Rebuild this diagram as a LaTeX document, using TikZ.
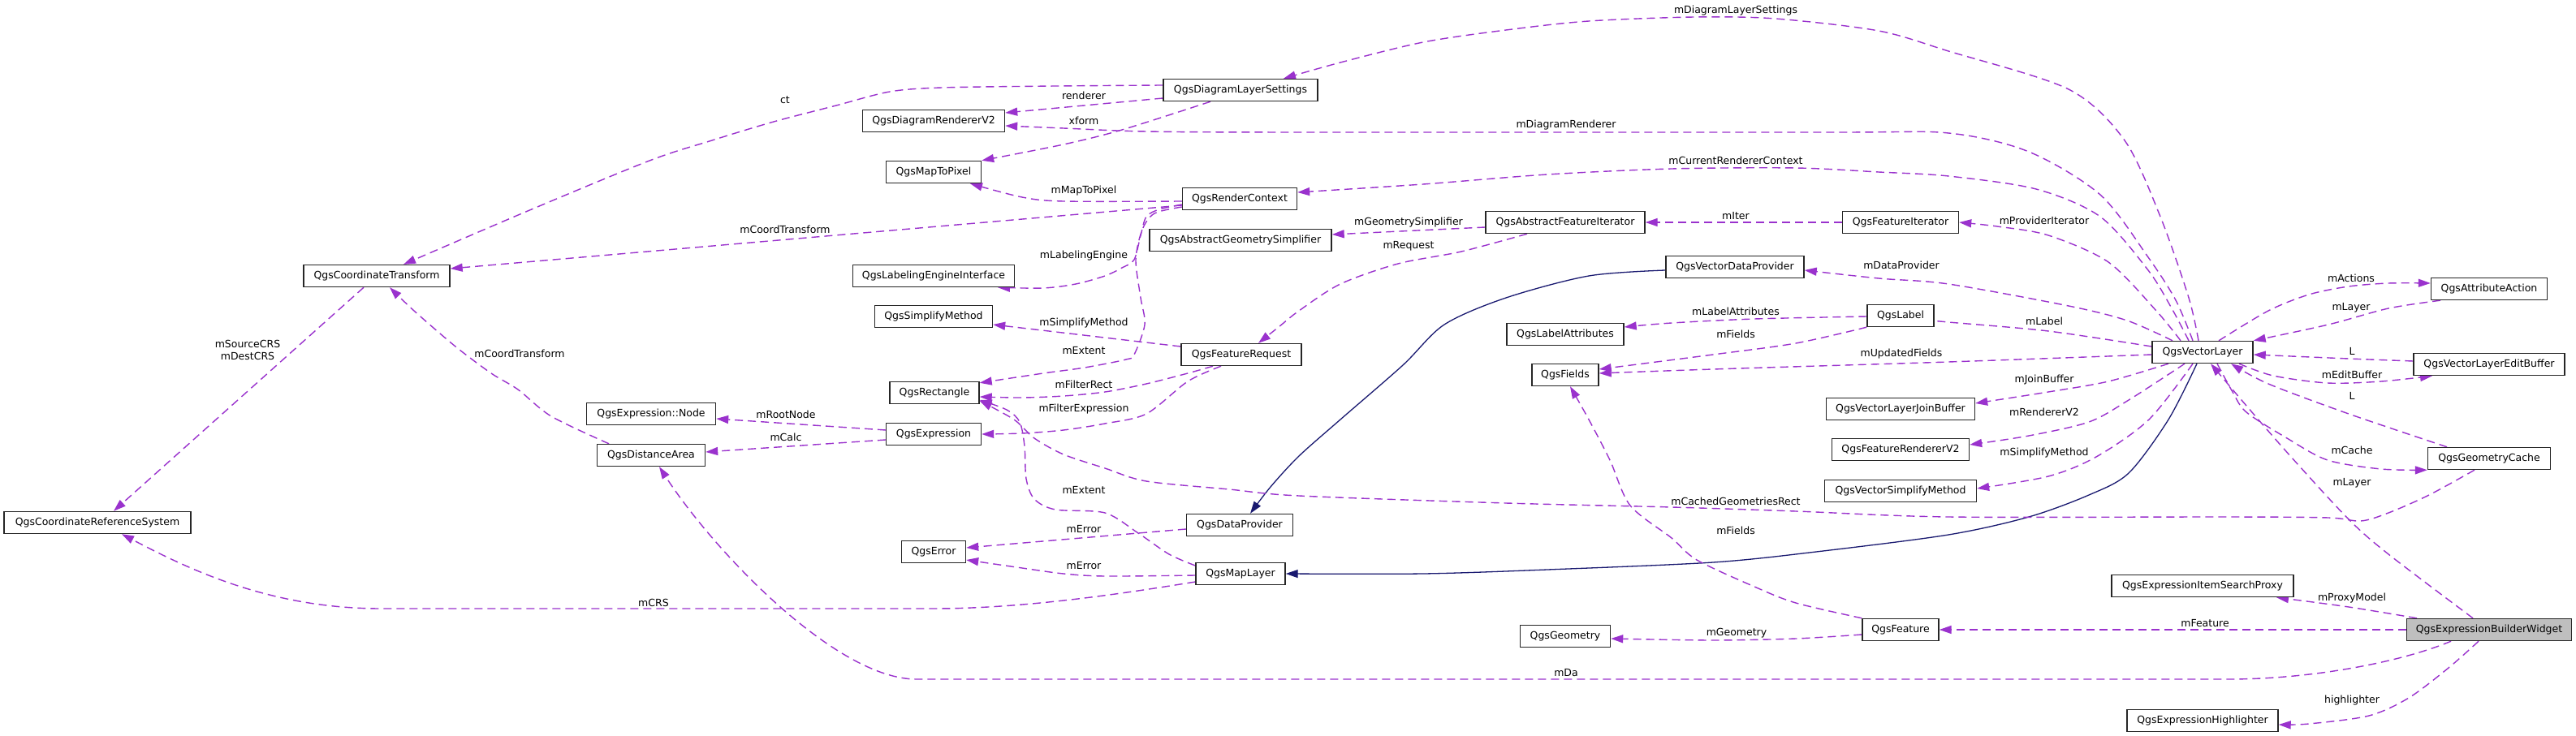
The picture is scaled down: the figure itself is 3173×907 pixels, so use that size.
\documentclass[tikz,border=0pt]{standalone}
\usepackage{fontspec}
\newfontfamily\dvs{DejaVu Sans}
\usetikzlibrary{arrows.meta}
\definecolor{dorchid}{RGB}{154,50,205}
\definecolor{mnblue}{RGB}{25,25,112}
\definecolor{greyfill}{RGB}{191,191,191}
\pgfdeclarelayer{back}
\pgfdeclarelayer{bg}
\pgfsetlayers{back,bg,main}
\begin{document}
\begin{tikzpicture}[x=1pt,y=-1pt,
  box/.style={draw=black!85, line width=1.4pt, fill=white, minimum height=27pt, inner sep=0pt, font={\dvs\fontsize{12.5}{15}\selectfont}},
  lbl/.style={inner sep=0pt, font={\dvs\fontsize{12.5}{15}\selectfont}, align=center},
  dep/.style={draw=dorchid, line width=1.4pt, dash pattern=on 10pt off 6pt, -{Triangle[length=15pt,width=10pt]}},
  inh/.style={draw=mnblue, line width=1.3pt, -{Triangle[length=15pt,width=10pt]}}]
\begin{pgfonlayer}{back}
\fill[white] (0,0) rectangle (3173,907);
\end{pgfonlayer}
\useasboundingbox (0,0) rectangle (3173,907);
% nodes
\node[box, minimum width=180pt] (CT) at (464,340) {QgsCoordinateTransform};
\node[box, minimum width=230pt] (CRS) at (120,644) {QgsCoordinateReferenceSystem};
\node[box, minimum width=190pt] (DLS) at (1528,111) {QgsDiagramLayerSettings};
\node[box, minimum width=175pt] (DRV) at (1150,149) {QgsDiagramRendererV2};
\node[box, minimum width=117pt] (MTP) at (1150,212) {QgsMapToPixel};
\node[box, minimum width=141pt] (RC) at (1527,245) {QgsRenderContext};
\node[box, minimum width=224pt] (AGS) at (1528,296) {QgsAbstractGeometrySimplifier};
\node[box, minimum width=199pt] (LEI) at (1150,340) {QgsLabelingEngineInterface};
\node[box, minimum width=145pt] (SM) at (1150,390) {QgsSimplifyMethod};
\node[box, minimum width=148pt] (FR) at (1529,437) {QgsFeatureRequest};
\node[box, minimum width=110pt] (RECT) at (1151,484) {QgsRectangle};
\node[box, minimum width=159pt] (NODE) at (802,510) {QgsExpression::Node};
\node[box, minimum width=117pt] (EXPR) at (1150,535) {QgsExpression};
\node[box, minimum width=133pt] (DA) at (802,561) {QgsDistanceArea};
\node[box, minimum width=131pt] (DP) at (1527,647) {QgsDataProvider};
\node[box, minimum width=79pt] (ERR) at (1150,680) {QgsError};
\node[box, minimum width=110pt] (ML) at (1528,707) {QgsMapLayer};
\node[box, minimum width=196pt] (AFI) at (1928,274) {QgsAbstractFeatureIterator};
\node[box, minimum width=143pt] (FI) at (2341,274) {QgsFeatureIterator};
\node[box, minimum width=170pt] (VDP) at (2137,329) {QgsVectorDataProvider};
\node[box, minimum width=82pt] (LBL) at (2341,389) {QgsLabel};
\node[box, minimum width=144pt] (LA) at (1928,412) {QgsLabelAttributes};
\node[box, minimum width=82pt] (FLD) at (1928,462) {QgsFields};
\node[box, minimum width=124pt] (VL) at (2713,434) {QgsVectorLayer};
\node[box, minimum width=143pt] (AA) at (3066,356) {QgsAttributeAction};
\node[box, minimum width=186pt] (VLEB) at (3066,449) {QgsVectorLayerEditBuffer};
\node[box, minimum width=183pt] (JB) at (2341,504) {QgsVectorLayerJoinBuffer};
\node[box, minimum width=169pt] (FRV) at (2341,554) {QgsFeatureRendererV2};
\node[box, minimum width=187pt] (VSM) at (2341,605) {QgsVectorSimplifyMethod};
\node[box, minimum width=151pt] (GC) at (3066,565) {QgsGeometryCache};
\node[box, minimum width=224pt] (ESP) at (2713,722) {QgsExpressionItemSearchProxy};
\node[box, minimum width=94pt] (FEAT) at (2341,776) {QgsFeature};
\node[box, minimum width=111pt] (GEOM) at (1928,784) {QgsGeometry};
\node[box, minimum width=203pt, fill=greyfill] (EBW) at (3066,776) {QgsExpressionBuilderWidget};
\node[box, minimum width=186pt] (EH) at (2713,888) {QgsExpressionHighlighter};
% labels
\node[lbl] (l01) at (967,123) {ct};
\node[lbl] (l02) at (1335,118) {renderer};
\node[lbl] (l03) at (1335,149) {xform};
\node[lbl] (l04) at (2138,13) {mDiagramLayerSettings};
\node[lbl] (l05) at (1929,154) {mDiagramRenderer};
\node[lbl] (l06) at (1335,235) {mMapToPixel};
\node[lbl] (l07) at (967,283) {mCoordTransform};
\node[lbl] (l08) at (2138,198) {mCurrentRendererContext};
\node[lbl] (l09) at (1335,315) {mLabelingEngine};
\node[lbl] (l10) at (1335,432) {mExtent};
\node[lbl] (l11) at (1735,274) {mGeometrySimplifier};
\node[lbl] (l12) at (1735,303) {mRequest};
\node[lbl] (l13) at (2138,266) {mIter};
\node[lbl] (l14) at (2518,272) {mProviderIterator};
\node[lbl] (l15) at (1335,398) {mSimplifyMethod};
\node[lbl] (l16) at (1335,474) {mFilterRect};
\node[lbl] (l17) at (1335,504) {mFilterExpression};
\node[lbl] (l18) at (968,511) {mRootNode};
\node[lbl] (l19) at (968,539) {mCalc};
\node[lbl] (l20) at (640,436) {mCoordTransform};
\node[lbl] (l21) at (305,431) {mSourceCRS\\mDestCRS};
\node[lbl] (l22) at (805,743) {mCRS};
\node[lbl] (l23) at (1335,604) {mExtent};
\node[lbl] (l24) at (1335,697) {mError};
\node[lbl] (l25) at (1335,652) {mError};
\node[lbl] (l26) at (2342,327) {mDataProvider};
\node[lbl] (l27) at (2138,384) {mLabelAttributes};
\node[lbl] (l28) at (2138,412) {mFields};
\node[lbl] (l29) at (2518,396) {mLabel};
\node[lbl] (l30) at (2342,436) {mUpdatedFields};
\node[lbl] (l31) at (2518,468) {mJoinBuffer};
\node[lbl] (l32) at (2518,508) {mRendererV2};
\node[lbl] (l33) at (2518,558) {mSimplifyMethod};
\node[lbl] (l34) at (2896,343) {mActions};
\node[lbl] (l35) at (2896,379) {mLayer};
\node[lbl] (l36) at (2897,433) {L};
\node[lbl] (l37) at (2897,462) {mEditBuffer};
\node[lbl] (l38) at (2897,488) {L};
\node[lbl] (l39) at (2897,555) {mCache};
\node[lbl] (l40) at (2897,595) {mLayer};
\node[lbl] (l41) at (2138,618) {mCachedGeometriesRect};
\node[lbl] (l42) at (2138,654) {mFields};
\node[lbl] (l43) at (2139,780) {mGeometry};
\node[lbl] (l44) at (2897,737) {mProxyModel};
\node[lbl] (l45) at (2716,768) {mFeature};
\node[lbl] (l46) at (1929,829) {mDa};
\node[lbl] (l47) at (2897,863) {highlighter};
% edges
\begin{pgfonlayer}{bg}
\draw[dep] plot[smooth] coordinates {([yshift=6pt]DLS.west) (1300,106) (1160,108) (1096,113) (1030,130) (953,150) (877,173) (800,198) (650,260) ([xshift=33pt]CT.north)};
\draw[dep] ([yshift=-10pt]DLS.west) -- ([yshift=10pt]DRV.east);
\draw[dep] plot[smooth] coordinates {([xshift=-37pt]DLS.south) (1382,160) (1310,178) (MTP.north east)};
\draw[dep] plot[smooth] coordinates {([xshift=-5pt]VL.north) (2696,367) (2661,267) (2617,173) (2548,110) (2400,63) (2314,38) (2187,23) (2087,21) (1957,26) (1855,37) (1753,52) (1651,77) ([xshift=53pt]DLS.north)};
\draw[dep] plot[smooth] coordinates {([xshift=-12pt]VL.north) (2680,370) (2646,317) (2587,240) (2499,187) (2400,164) (2250,163) (1600,163) (1412,162) (1310,158) ([yshift=-6pt]DRV.east)};
\draw[dep] plot[smooth] coordinates {([yshift=-3pt]RC.west) (1310,248) (1259,243) ([xshift=45pt]MTP.south)};
\draw[dep] ([yshift=-8pt]RC.west) -- ([yshift=9pt]CT.east);
\draw[dep] plot[smooth] coordinates {([xshift=-17pt]VL.north) (2675,380) (2646,333) (2587,267) (2508,233) (2400,217) (2314,212) (2212,207) (2059,208) (1906,215) (1753,227) ([yshift=8pt]RC.east)};
\draw[dep] plot[smooth] coordinates {([yshift=-7pt]RC.west) (1428,258) (1412,267) (1405,290) (1397,320) (1382,330) (1361,340) (1325,350) (1285,355) ([xshift=79pt]LEI.south)};
\draw[dep] plot[smooth] coordinates {([yshift=-10pt]RC.west) (1422,263) (1407,283) (1399,320) (1405,367) (1410,400) (1397,437) (1387,443) (1336,453) (1285,460) ([yshift=-2pt]RECT.north east)};
\draw[dep] ([yshift=-6pt]AFI.west) -- ([yshift=7pt]AGS.east);
\draw[dep] plot[smooth] coordinates {([xshift=-47pt]AFI.south) (1800,310) (1722,325) (1651,350) (1600,383) (1575,403) ([xshift=21pt]FR.north)};
\draw[dep] (FI.west) -- (AFI.east);
\draw[dep] plot[smooth] coordinates {([xshift=-27pt]VL.north) (2656,383) (2597,323) (2523,290) (2460,279) (FI.east)};
\draw[dep] ([yshift=10pt]FR.west) -- ([yshift=-10pt]SM.east);
\draw[dep] plot[smooth] coordinates {([xshift=-35pt]FR.south) (1463,460) (1412,473) (1361,483) (1310,488) (1259,490) ([yshift=-5pt]RECT.east)};
\draw[dep] plot[smooth] coordinates {([xshift=-25pt]FR.south) (1463,470) (1412,510) (1361,522) (1310,530) (1259,534) (EXPR.east)};
\draw[dep] ([yshift=5pt]EXPR.west) -- ([yshift=-6pt]NODE.east);
\draw[dep] ([yshift=-7pt]EXPR.west) -- ([yshift=4pt]DA.east);
\draw[dep] plot[smooth] coordinates {([xshift=-52pt]DA.north) (679,513) (638,480) (605,460) (561,427) (510,383) ([xshift=16pt]CT.south)};
\draw[dep] ([xshift=-16pt]CT.south) -- ([xshift=20pt]CRS.north);
\draw[dep] ([yshift=-10pt]ML.west) .. controls (1380,732) and (1260,750) .. (1150,750) -- (470,750) .. controls (330,750) and (230,700) .. ([xshift=30pt]CRS.south);
\draw[dep] plot[smooth] coordinates {([yshift=10pt]ML.west) (1440,683) (1402,657) (1361,632) (1300,628) (1274,615) (1264,590) (1262,550) (1256,520) (1240,505) ([yshift=-9pt]RECT.east)};
\draw[dep] plot[smooth] coordinates {([yshift=-2pt]ML.west) (1361,710) (1310,707) (1259,700) ([yshift=-10pt]ERR.east)};
\draw[dep] ([yshift=-5pt]DP.west) -- ([yshift=5pt]ERR.east);
\draw[inh] plot[smooth] coordinates {([yshift=-4pt]VDP.west) (1957,340) (1855,367) (1779,400) (1728,450) (1651,517) (1600,562) (1565,600) ([xshift=13pt]DP.north)};
\draw[inh] plot[smooth] coordinates {([xshift=-7pt]VL.south) (2671,517) (2622,583) (2573,610) (2499,637) (2400,659) (2237,680) (2110,693) (1906,702) (1753,707) (ML.east)};
\draw[dep] plot[smooth] coordinates {([xshift=-37pt]VL.north) (2620,395) (2548,377) (2400,350) (2314,343) ([yshift=-4pt]VDP.east)};
\draw[dep] plot[smooth] coordinates {([yshift=-1pt]LBL.west) (2161,393) (2059,398) ([yshift=9pt]LA.east)};
\draw[dep] plot[smooth] coordinates {(LBL.south west) (2212,423) (2110,437) ([yshift=7pt]FLD.east)};
\draw[dep] plot[smooth] coordinates {([yshift=7pt]VL.west) (2523,408) (2400,397) ([yshift=-6pt]LBL.east)};
\draw[dep] plot[smooth] coordinates {([yshift=-3pt]VL.west) (2400,446) (2110,455) ([yshift=2pt]FLD.east)};
\draw[dep] plot[smooth] coordinates {([xshift=-42pt]VL.south) (2597,470) (2523,483) ([yshift=7pt]JB.east)};
\draw[dep] plot[smooth] coordinates {([xshift=-22pt]VL.south) (2622,493) (2573,520) (2499,537) ([yshift=6pt]FRV.east)};
\draw[dep] plot[smooth] coordinates {([xshift=-12pt]VL.south) (2647,517) (2582,563) (2523,587) ([yshift=3pt]VSM.east)};
\draw[dep] plot[smooth] coordinates {([xshift=20pt]VL.north) (2794,383) (2844,363) (2893,353) (2942,349) ([yshift=7pt]AA.west)};
\draw[dep] plot[smooth] coordinates {([xshift=-60pt]AA.south) (2942,380) (2868,400) (VL.north east)};
\draw[dep] plot[smooth] coordinates {([yshift=4pt]VLEB.west) (2893,442) ([yshift=-3pt]VL.east)};
\draw[dep] plot[smooth] coordinates {([xshift=45pt]VL.south) (2800,463) (2867,472) (2933,470) ([xshift=-70pt]VLEB.south)};
\draw[dep] plot[smooth] coordinates {([xshift=-52pt]GC.north) (2893,510) (2794,473) ([xshift=35pt]VL.south)};
\draw[dep] plot[smooth] coordinates {([xshift=18pt]VL.south) (2750,483) (2767,508) (2817,540) (2867,567) (2933,578) (GC.south west)};
\draw[dep] plot[smooth] coordinates {([xshift=-18pt]GC.south) (2992,610) (2942,632) (2908,642) (2868,638) (2745,637) (2400,637) (2212,630) (2059,625) (1855,620) (1600,611) (1514,603) (1412,593) (1361,577) (1310,560) (1274,540) (1249,517) ([yshift=-10pt]RECT.east)};
\draw[dep] plot[smooth] coordinates {(FEAT.north west) (2212,743) (2161,723) (2090,690) (2059,663) (2008,623) (1983,567) (1957,517) ([xshift=6pt]FLD.south)};
\draw[dep] plot[smooth] coordinates {([yshift=-6pt]FEAT.west) (2212,787) (2110,789) ([yshift=-3pt]GEOM.east)};
\draw[dep] plot[smooth] coordinates {([xshift=-20pt]EBW.north) (2942,683) (2893,640) (2822,563) (2767,500) ([xshift=10pt]VL.south)};
\draw[dep] plot[smooth] coordinates {([xshift=-89pt]EBW.north) (2893,748) ([xshift=91pt]ESP.south)};
\draw[dep] (EBW.west) -- (FEAT.east);
\draw[dep] ([xshift=-47pt]EBW.south) .. controls (2960,815) and (2850,837) .. (2745,837) -- (1129,837) .. controls (1030,837) and (880,680) .. ([xshift=10pt]DA.south);
\draw[dep] plot[smooth] coordinates {([xshift=-13pt]EBW.south) (3016,823) (2967,860) (2918,882) (2844,892) ([yshift=-5pt]EH.east)};
\end{pgfonlayer}
\end{tikzpicture}
\end{document}
